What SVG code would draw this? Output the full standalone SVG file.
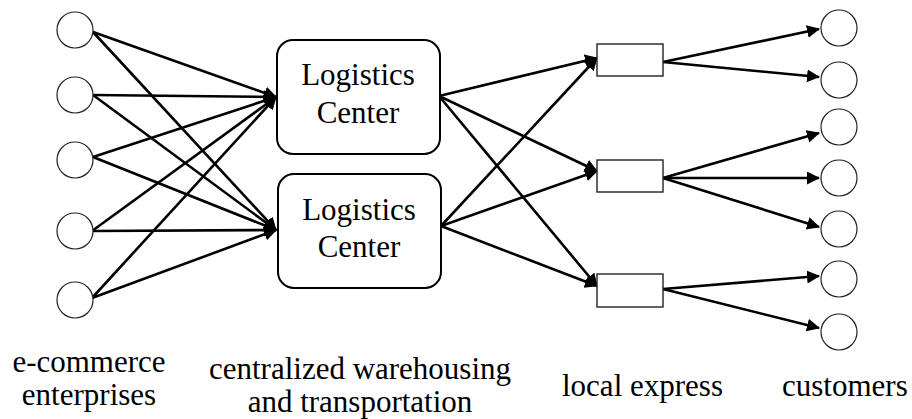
<svg xmlns="http://www.w3.org/2000/svg" width="912" height="419" viewBox="0 0 912 419">
  <style>
    .node circle { fill: #fff; stroke: #222; stroke-width: 1.2; }
    .center rect { fill: #fff; stroke: #000; stroke-width: 2; }
    .hub rect { fill: #fff; stroke: #222; stroke-width: 1.4; }
    .edges line { stroke: #000; stroke-width: 2.6; marker-end: url(#arrow); }
    .label { font-family: 'Liberation Serif', 'Times New Roman', serif; font-size: 31px; fill: #000; }
    .mid { text-anchor: middle; }
  </style>
  <defs>
    <marker id="arrow" markerUnits="userSpaceOnUse" markerWidth="14" markerHeight="14" refX="12" refY="6.5" orient="auto">
      <path d="M0,0 L13,6.5 L0,13 Z" fill="#000"/>
    </marker>
  </defs>

  <!-- connectors -->
  <g id="connectors" class="edges">
    <!-- enterprises to logistics centers -->
    <line x1="93" y1="32" x2="276" y2="97"/>
    <line x1="93" y1="32" x2="276" y2="230"/>
    <line x1="93" y1="95" x2="276" y2="97"/>
    <line x1="93" y1="95" x2="276" y2="230"/>
    <line x1="93" y1="157" x2="276" y2="97"/>
    <line x1="93" y1="157" x2="276" y2="230"/>
    <line x1="92" y1="231" x2="276" y2="97"/>
    <line x1="92" y1="231" x2="276" y2="230"/>
    <line x1="92" y1="298" x2="276" y2="97"/>
    <line x1="92" y1="298" x2="276" y2="230"/>
    <!-- logistics centers to local express -->
    <line x1="439" y1="96" x2="597" y2="58"/>
    <line x1="439" y1="96" x2="597" y2="171"/>
    <line x1="439" y1="96" x2="597" y2="286"/>
    <line x1="441" y1="226" x2="597" y2="58"/>
    <line x1="441" y1="226" x2="597" y2="171"/>
    <line x1="441" y1="226" x2="597" y2="286"/>
    <!-- local express to customers -->
    <line x1="663" y1="62" x2="819" y2="29"/>
    <line x1="663" y1="62" x2="819" y2="77"/>
    <line x1="663" y1="178" x2="819" y2="133"/>
    <line x1="663" y1="178" x2="819" y2="178"/>
    <line x1="663" y1="178" x2="819" y2="227"/>
    <line x1="663" y1="289" x2="819" y2="276"/>
    <line x1="663" y1="289" x2="819" y2="328"/>
  </g>

  <!-- e-commerce enterprises -->
  <g id="enterprise-1" class="node"><circle cx="75" cy="30" r="18"/></g>
  <g id="enterprise-2" class="node"><circle cx="75" cy="95" r="18"/></g>
  <g id="enterprise-3" class="node"><circle cx="75" cy="160" r="18"/></g>
  <g id="enterprise-4" class="node"><circle cx="75" cy="231" r="18"/></g>
  <g id="enterprise-5" class="node"><circle cx="75" cy="300" r="18"/></g>

  <!-- logistics centers -->
  <g id="center-1" class="center">
    <rect x="277" y="40" width="163" height="114" rx="16"/>
    <text class="label mid" x="358" y="85">Logistics</text>
    <text class="label mid" x="358" y="123">Center</text>
  </g>
  <g id="center-2" class="center">
    <rect x="278" y="174" width="163" height="114" rx="16"/>
    <text class="label mid" x="359" y="220">Logistics</text>
    <text class="label mid" x="359" y="257">Center</text>
  </g>

  <!-- local express points -->
  <g id="express-1" class="hub"><rect x="597" y="44" width="66" height="32"/></g>
  <g id="express-2" class="hub"><rect x="597" y="160" width="66" height="32"/></g>
  <g id="express-3" class="hub"><rect x="597" y="274" width="66" height="33"/></g>

  <!-- customers -->
  <g id="customer-1" class="node"><circle cx="839" cy="28" r="18"/></g>
  <g id="customer-2" class="node"><circle cx="839" cy="80" r="18"/></g>
  <g id="customer-3" class="node"><circle cx="839" cy="127" r="18"/></g>
  <g id="customer-4" class="node"><circle cx="839" cy="178" r="18"/></g>
  <g id="customer-5" class="node"><circle cx="839" cy="229" r="18"/></g>
  <g id="customer-6" class="node"><circle cx="839" cy="279" r="18"/></g>
  <g id="customer-7" class="node"><circle cx="839" cy="332" r="18"/></g>

  <!-- column captions -->
  <g id="captions">
    <text class="label mid" x="89" y="372">e-commerce</text>
    <text class="label mid" x="89" y="405">enterprises</text>
    <text class="label mid" x="360" y="379">centralized warehousing</text>
    <text class="label mid" x="360" y="412">and transportation</text>
    <text class="label" x="562" y="396">local express</text>
    <text class="label" x="782" y="396">customers</text>
  </g>
</svg>
